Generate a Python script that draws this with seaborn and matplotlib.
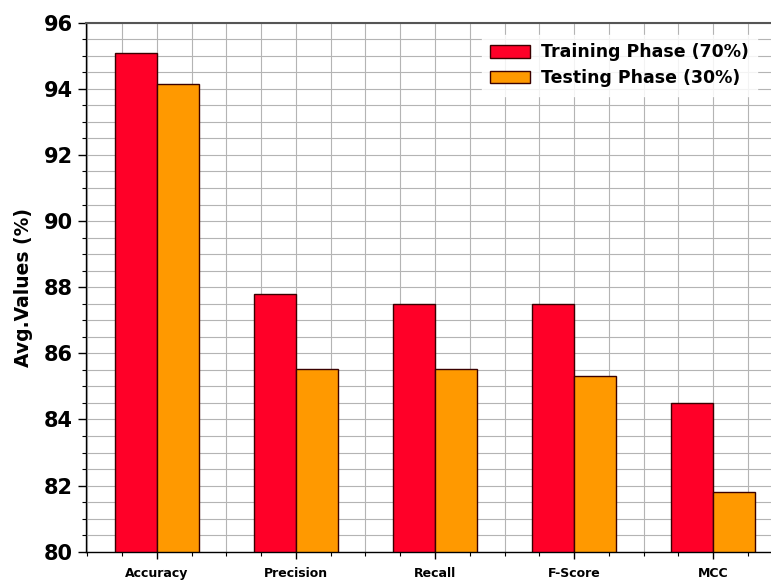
import matplotlib
matplotlib.use("Agg")
import matplotlib.pyplot as plt
from matplotlib.ticker import MultipleLocator
import seaborn as sns
import pandas as pd

metrics = ["Accuracy", "Precision", "Recall", "F-Score", "MCC"]
phases = ["Training Phase (70%)", "Testing Phase (30%)"]
training = [95.07, 87.79, 87.50, 87.50, 84.49]
testing = [94.15, 85.52, 85.52, 85.30, 81.80]
y_ticks = [80, 82, 84, 86, 88, 90, 92, 94, 96]

colors = ["#FF0028", "#FF9900"]

df = pd.DataFrame({
    "Metric": metrics * 2,
    "Phase": [phases[0]] * len(metrics) + [phases[1]] * len(metrics),
    "Value": training + testing,
})

sns.set_style("white")
plt.rcParams["font.family"] = ["DejaVu Sans"]
plt.rcParams["text.color"] = "black"
plt.rcParams["axes.labelcolor"] = "black"
plt.rcParams["xtick.color"] = "black"
plt.rcParams["ytick.color"] = "black"

fig = plt.figure(figsize=(7.71, 5.81), dpi=100)
ax = fig.add_axes([86 / 771, 29.3 / 581, 698 / 771, 529 / 581])

sns.barplot(
    data=df, x="Metric", y="Value", hue="Phase",
    order=metrics, hue_order=phases, palette=colors, saturation=1,
    width=0.6, edgecolor="#3a0000", linewidth=1.0,
    ax=ax, legend=True,
)

ax.set_xlim(-0.51, 4.51)
ax.set_ylim(80, 96)
ax.set_yticks(y_ticks)
ax.yaxis.set_minor_locator(MultipleLocator(0.5))
ax.xaxis.set_minor_locator(MultipleLocator(0.25))
ax.set_axisbelow(True)
ax.grid(which="both", color="#b4b4b4", linewidth=0.8)

ax.tick_params(axis="y", which="major", length=6, width=1, labelsize=15, direction="out", left=True)
ax.tick_params(axis="y", which="minor", length=3, width=0.8, direction="out", left=True)
ax.tick_params(axis="x", which="major", length=5, width=1, labelsize=9, direction="out", bottom=True, pad=6)
ax.tick_params(axis="x", which="minor", length=3, width=0.8, direction="out", bottom=True)
for lbl in ax.get_yticklabels() + ax.get_xticklabels():
    lbl.set_fontweight("bold")
    lbl.set_color("black")

ax.set_xlabel("")
ax.set_ylabel("Avg.Values (%)", fontsize=13.5, fontweight="bold", labelpad=8, color="black")

for s in ax.spines.values():
    s.set_visible(True)
    s.set_color("black")
    s.set_linewidth(1.0)
ax.spines["top"].set_color("#555555")
ax.spines["top"].set_linewidth(1.5)

handles, labels = ax.get_legend_handles_labels()
if ax.get_legend() is not None:
    ax.get_legend().remove()
leg = ax.legend(
    handles, labels,
    loc="upper right", bbox_to_anchor=(766 / 771, 1 - 26 / 581),
    bbox_transform=fig.transFigure,
    prop={"weight": "bold", "size": 12.5},
    frameon=True, framealpha=0.85, edgecolor="white", fancybox=True,
    handlelength=2.3, handleheight=0.75, handletextpad=0.6,
    labelspacing=0.45, borderpad=0.5,
)
for t in leg.get_texts():
    t.set_color("black")

fig.savefig("out.png", dpi=100)
